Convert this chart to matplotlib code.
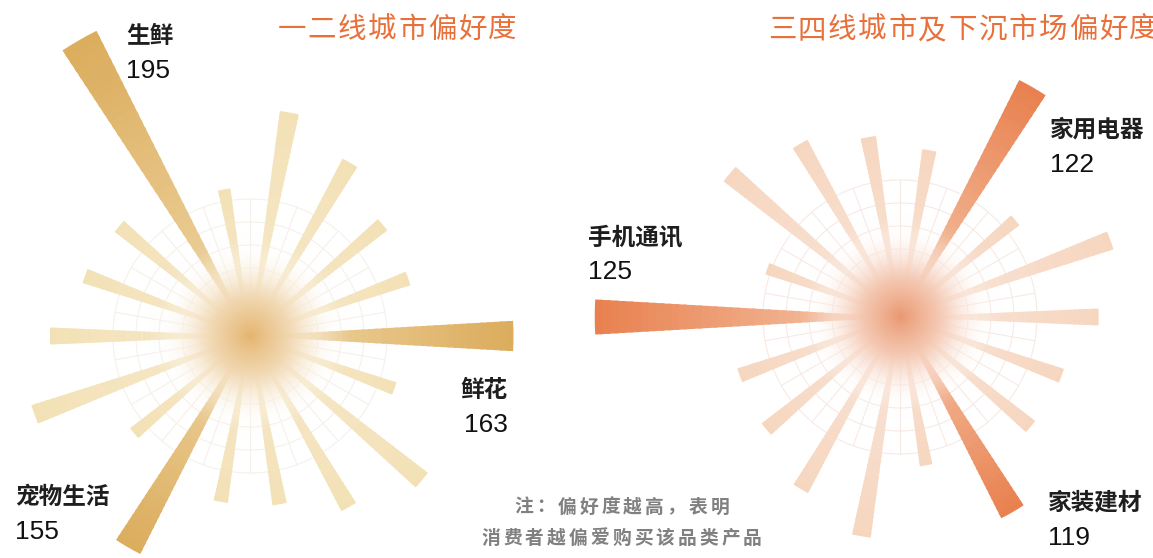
import numpy as np
import matplotlib.pyplot as plt
from matplotlib.colors import to_rgb

plt.rcParams['font.family'] = ['Noto Sans CJK SC', 'DejaVu Sans']

W, H = 1153, 558

# 18 spokes, every 20 degrees, counter-clockwise from east
angles_deg = np.arange(0, 360, 20)

tier12_title = '一二线城市偏好度'
tier12_values = [163, 124, 126, 137, 148, 116, 195, 125, 127,
                 137, 149, 117, 155, 124, 125, 136, 147, 118]
tier12_highlight = {0: '鲜花', 6: '生鲜', 12: '宠物生活'}

tier34_title = '三四线城市及下沉市场偏好度'
tier34_values = [117.0, 118.9, 113.4, 122, 114.8, 115.8, 117.1, 118.8, 112.7,
                 125, 114.9, 115.2, 117.0, 118.8, 113.4, 119, 114.9, 115.0]
tier34_highlight = {9: '手机通讯', 3: '家用电器', 15: '家装建材'}

note_lines = ['注：偏好度越高，表明', '消费者越偏爱购买该品类产品']


def mix(c1, c2, t):
    a, b = np.array(to_rgb(c1)), np.array(to_rgb(c2))
    return tuple(a + (b - a) * t)


def draw_burst(fig, cx, cy, r0, scale, values, highlight, pal):
    R = 355
    ax = fig.add_axes([(cx - R) / W, 1 - (cy + R) / H, 2 * R / W, 2 * R / H],
                      projection='polar')
    ax.set_ylim(r0, r0 + R / scale)
    ax.axis('off')
    theta = np.deg2rad(angles_deg)
    # faint web behind the bars
    t = np.linspace(0, 2 * np.pi, 361)
    for px in [68, 91, 114, 137]:
        ax.plot(t, np.full_like(t, r0 + px / scale), color=pal['grid'], lw=0.8, zorder=1)
    for a in theta + np.deg2rad(10):
        ax.plot([a, a], [r0 + 40 / scale, r0 + 137 / scale], color=pal['grid'], lw=0.8, zorder=1)

    values = np.array(values, dtype=float)
    hi = np.array([i in highlight for i in range(len(values))])
    widths = np.where(hi, 0.115, 0.085)
    n = 40
    for k in range(n):
        lo = r0 + (values - r0) * k / n
        up = r0 + (values - r0) * min(k + 1.4, n) / n
        f = (k + 0.5) / n
        cols = [mix(pal['strong_in'], pal['strong'], f) if h else mix(pal['light_in'], pal['light'], f)
                for h in hi]
        ax.bar(theta, up - lo, bottom=lo, width=widths, color=cols, lw=0, zorder=2)
    return ax


def glow(ov, cx, cy, color, pale):
    s = 130
    yy, xx = np.mgrid[-s:s + 1, -s:s + 1]
    r = np.hypot(xx, yy)
    a = np.clip((106 - r) / 74, 0, 1)
    a = a * a * (3 - 2 * a)
    f = np.clip(r / 85, 0, 1) ** 0.9
    c0, c1 = np.array(to_rgb(color)), np.array(to_rgb(pale))
    img = np.zeros(r.shape + (4,))
    for ch in range(3):
        img[..., ch] = c0[ch] + (c1[ch] - c0[ch]) * f
    img[..., 3] = a
    ov.imshow(img, extent=[cx - s - 0.5, cx + s + 0.5, cy + s + 0.5, cy - s - 0.5],
              interpolation='bilinear', aspect='auto', zorder=1)


def spaced_text(ax, x0, y, s, pitch, **kw):
    # glyphs on a wide fixed pitch (letter-spaced text)
    for i, ch in enumerate(s):
        ax.text(x0 + i * pitch, y, ch, ha='center', va='center', **kw)


fig = plt.figure(figsize=(W / 100, H / 100), dpi=100)
fig.patch.set_facecolor('white')

gold = dict(light='#F3E1B6', light_in='#F6E9CC', strong='#DBAC5C', strong_in='#F0D8A8',
            grid='#F5F1EA', glow='#E4B46E', pale='#FFFCF6')
peach = dict(light='#F6D6BF', light_in='#F9E6DA', strong='#E8804E', strong_in='#F6CBB0',
             grid='#F7EAE5', glow='#EA9870', pale='#FFFAF7')

draw_burst(fig, 250, 336, 55, 2.44, tier12_values, tier12_highlight, gold)
draw_burst(fig, 900, 317, 102.1, 13.33, tier34_values, tier34_highlight, peach)

ov = fig.add_axes([0, 0, 1, 1], zorder=5)
ov.axis('off')
glow(ov, 250, 336, gold['glow'], gold['pale'])
glow(ov, 900, 317, peach['glow'], peach['pale'])
ov.set_xlim(0, W)
ov.set_ylim(H, 0)

title_color = '#E8703A'
spaced_text(ov, 292, 30, tier12_title, 30.1, color=title_color, fontsize=20.5, fontweight='medium')
spaced_text(ov, 782, 30, tier34_title, 30.1, color=title_color, fontsize=20.5, fontweight='medium')

label_pos = {
    'left': {6: (126, 36, 'left'), 0: (508, 390, 'right'), 12: (15, 497, 'left')},
    'right': {9: (588, 237, 'left'), 3: (1050, 130, 'left'), 15: (1048, 503, 'left')},
}
num_font = ['Liberation Sans', 'DejaVu Sans']
for side, values, highlight in [('left', tier12_values, tier12_highlight),
                                ('right', tier34_values, tier34_highlight)]:
    for idx, name in highlight.items():
        x, y, ha = label_pos[side][idx]
        ov.text(x, y, name, fontsize=17, fontweight='bold', color='#1E1E1E', ha=ha, va='center')
        ov.text(x, y + 35, f'{values[idx]:.0f}', fontsize=19, family=num_font,
                color='#111111', ha=ha, va='center')

note_pitch = 21.8
for line, y in zip(note_lines, [507, 538]):
    x0 = 621.5 - (len(line) - 1) * note_pitch / 2
    spaced_text(ov, x0, y, line, note_pitch, fontsize=13.5, fontweight='bold', color='#808080')

fig.savefig('out.png', dpi=100, facecolor='white')
